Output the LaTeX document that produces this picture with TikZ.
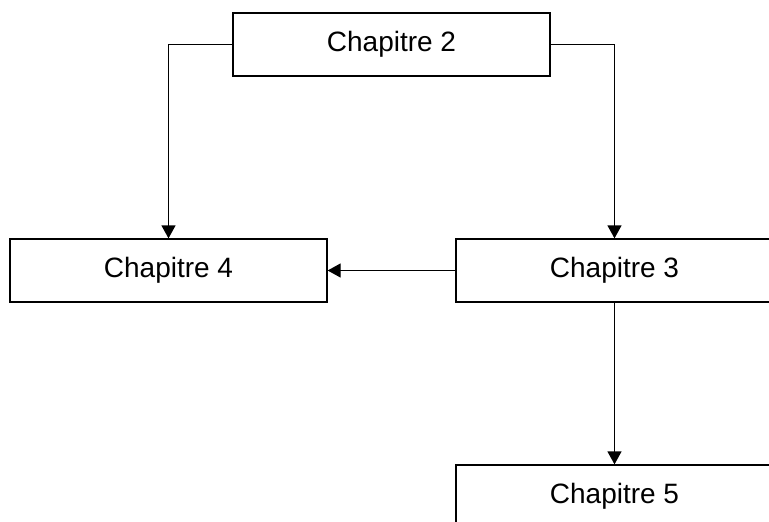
\documentclass[tikz,border=0pt]{standalone}
\usepackage{fontspec}
\setmainfont{Liberation Sans}
\usetikzlibrary{arrows.meta}
\begin{document}
\begin{tikzpicture}[x=1pt,y=-1pt,
  box/.style={draw,line width=1.3pt,minimum width=317pt,minimum height=63pt,inner sep=0pt,font=\fontsize{28}{34}\selectfont},
  conn/.style={line width=1.3pt},
  arr/.style={conn,-{Triangle[width=14pt,length=13pt]}}]
\useasboundingbox (0,0) rectangle (769,522);
\clip (0,0) rectangle (769,522);
\node[box] (c2) at (391.5,44.5) {Chapitre 2};
\node[box] (c4) at (168.5,270.5) {Chapitre 4};
\node[box] (c3) at (614.5,270.5) {Chapitre 3};
\node[box] (c5) at (614.5,496.5) {Chapitre 5};
\draw[arr] (c2.west) -| (c4.north);
\draw[arr] (c2.east) -| (c3.north);
\draw[arr] (c3.west) -- (c4.east);
\draw[arr] (c3.south) -- (c5.north);
\end{tikzpicture}
\end{document}
